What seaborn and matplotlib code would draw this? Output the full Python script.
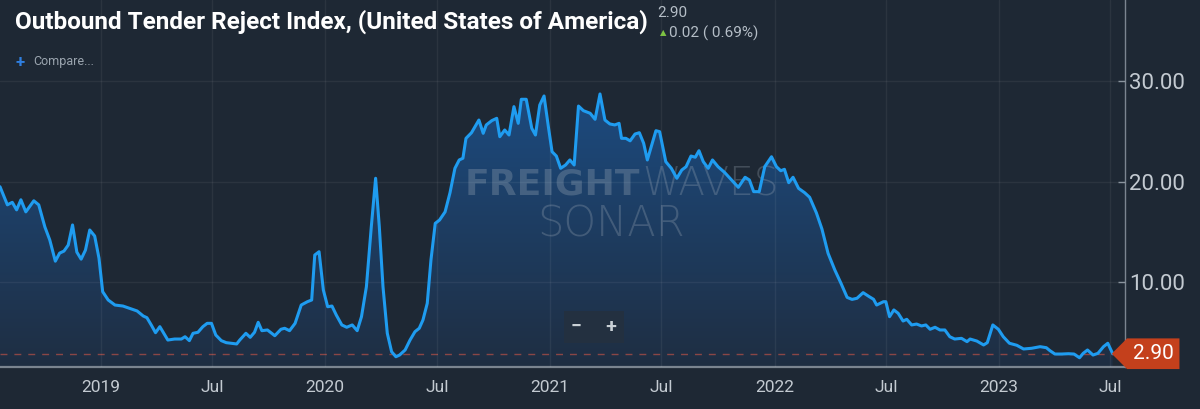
import matplotlib
matplotlib.use('Agg')
import matplotlib.pyplot as plt
import matplotlib.dates as mdates
import matplotlib.transforms as mtransforms
from matplotlib.colors import LinearSegmentedColormap
from matplotlib.lines import Line2D
from matplotlib.path import Path
import numpy as np
import pandas as pd
import seaborn as sns

# OTRI weekly readings
dates = [
    '2018-07-21', '2018-08-02', '2018-08-10', '2018-08-17', '2018-08-24', '2018-09-01', '2018-09-14',
    '2018-09-22', '2018-10-02', '2018-10-10', '2018-10-19', '2018-10-26', '2018-11-02', '2018-11-09',
    '2018-11-16', '2018-11-23', '2018-11-30', '2018-12-07', '2018-12-14', '2018-12-22', '2018-12-29',
    '2019-01-04', '2019-01-13', '2019-01-24', '2019-02-06', '2019-02-17', '2019-03-01', '2019-03-11',
    '2019-03-17', '2019-03-24', '2019-03-31', '2019-04-07', '2019-04-20', '2019-05-01', '2019-05-12',
    '2019-05-18', '2019-05-25', '2019-05-31', '2019-06-08', '2019-06-16', '2019-06-23', '2019-06-30',
    '2019-07-07', '2019-07-16', '2019-07-24', '2019-08-10', '2019-08-15', '2019-08-25', '2019-09-01',
    '2019-09-08', '2019-09-14', '2019-09-20', '2019-09-29', '2019-10-11', '2019-10-21', '2019-10-27',
    '2019-11-04', '2019-11-13', '2019-11-23', '2019-12-03', '2019-12-10', '2019-12-15', '2019-12-22',
    '2019-12-29',
    '2020-01-05', '2020-01-12', '2020-01-19', '2020-01-28', '2020-02-05', '2020-02-14', '2020-02-22',
    '2020-02-29', '2020-03-08', '2020-03-16', '2020-03-23', '2020-03-29', '2020-04-04', '2020-04-11',
    '2020-04-18', '2020-04-25', '2020-05-01', '2020-05-10', '2020-05-18', '2020-05-26', '2020-06-02',
    '2020-06-08', '2020-06-15', '2020-06-21', '2020-06-28', '2020-07-05', '2020-07-14', '2020-07-22',
    '2020-07-30', '2020-08-06', '2020-08-12', '2020-08-17', '2020-08-26', '2020-09-07', '2020-09-14',
    '2020-09-19', '2020-09-28', '2020-10-06', '2020-10-11', '2020-10-19', '2020-10-26', '2020-11-03',
    '2020-11-10', '2020-11-15', '2020-11-23', '2020-12-02', '2020-12-08', '2020-12-15', '2020-12-22',
    '2020-12-29',
    '2021-01-04', '2021-01-11', '2021-01-18', '2021-01-26', '2021-02-02', '2021-02-09', '2021-02-16',
    '2021-02-24', '2021-03-07', '2021-03-15', '2021-03-23', '2021-03-31', '2021-04-08', '2021-04-16',
    '2021-04-23', '2021-04-27', '2021-05-04', '2021-05-11', '2021-05-19', '2021-05-26', '2021-06-02',
    '2021-06-08', '2021-06-22', '2021-06-28', '2021-07-08', '2021-07-17', '2021-07-26', '2021-08-03',
    '2021-08-10', '2021-08-18', '2021-08-25', '2021-08-31', '2021-09-07', '2021-09-15', '2021-09-22',
    '2021-10-01', '2021-10-12', '2021-10-23', '2021-11-03', '2021-11-14', '2021-11-21', '2021-11-28',
    '2021-12-07', '2021-12-16', '2021-12-27',
    '2022-01-04', '2022-01-11', '2022-01-17', '2022-01-24', '2022-01-31', '2022-02-09', '2022-02-19',
    '2022-02-27', '2022-03-10', '2022-03-19', '2022-03-29', '2022-04-09', '2022-04-19', '2022-04-29',
    '2022-05-07', '2022-05-15', '2022-05-25', '2022-06-04', '2022-06-11', '2022-06-16', '2022-06-27',
    '2022-07-01', '2022-07-07', '2022-07-14', '2022-07-21', '2022-07-29', '2022-08-04', '2022-08-12',
    '2022-08-20', '2022-08-28', '2022-09-04', '2022-09-11', '2022-09-19', '2022-09-27', '2022-10-05',
    '2022-10-13', '2022-10-21', '2022-11-01', '2022-11-10', '2022-11-15', '2022-11-26', '2022-12-07',
    '2022-12-13', '2022-12-22', '2022-12-31',
    '2023-01-08', '2023-01-18', '2023-01-30', '2023-02-10', '2023-02-23', '2023-03-09', '2023-03-19',
    '2023-03-25', '2023-04-02', '2023-04-13', '2023-04-24', '2023-05-03', '2023-05-12', '2023-05-18',
    '2023-05-25', '2023-06-03', '2023-06-11', '2023-06-20', '2023-06-27', '2023-07-05',
]
values = [
    19.5, 17.7, 17.95, 17.2, 18.2, 17.0, 18.1, 17.7, 15.5, 14.2, 12.1, 12.9, 13.1, 13.7,
    15.7, 13.0, 12.3, 13.2, 15.2, 14.6, 12.4,
    9.07, 8.24, 7.74, 7.64, 7.41, 7.15, 6.65, 6.48, 5.76, 4.99, 5.59, 4.26, 4.36, 4.36,
    4.59, 4.2, 4.93, 5.03, 5.59, 5.92, 5.92, 4.76, 4.2, 4.0, 3.87, 4.26, 4.93, 4.53,
    5.03, 6.02, 5.19, 5.26, 4.69, 5.33, 5.43, 5.19, 5.92, 7.74, 8.07, 8.24, 12.71, 13.04,
    9.23,
    7.57, 7.64, 6.75, 5.76, 5.53, 5.76, 5.19, 6.58, 9.56, 15.53, 20.34, 15.53, 9.56, 4.93,
    3.1, 2.6, 2.77, 3.27, 4.26, 5.09, 5.43, 6.25, 7.91, 12.2, 15.86, 16.19, 17.0, 18.9,
    21.33, 22.16, 22.33, 24.31, 24.87, 26.13, 24.81, 25.64, 26.07, 26.3, 24.47, 25.14, 24.64, 27.46,
    25.8, 28.19, 28.19, 25.31, 24.64, 27.62, 28.52, 25.47,
    22.98, 22.55, 21.33, 21.66, 22.16, 21.66, 27.52, 27.06, 26.8, 26.2, 28.72, 26.13, 25.74, 25.64,
    25.8, 24.31, 24.31, 24.06, 24.74, 24.87, 23.82, 22.16, 25.07, 24.97, 21.99, 21.33, 20.34, 21.16,
    21.49, 22.55, 22.43, 23.08, 21.99, 21.33, 22.16, 21.49, 20.9, 20.17, 19.44, 20.44, 20.17, 19.01,
    19.01, 21.49, 22.48,
    21.49, 21.09, 21.23, 19.9, 20.44, 19.34, 18.9, 18.45, 16.9, 15.3, 12.88, 11.22, 9.9, 8.5,
    8.3, 8.41, 8.97, 8.57, 8.31, 7.74, 8.07, 8.07, 6.58, 7.25, 6.92, 6.15, 6.32, 5.76,
    5.85, 5.66, 5.76, 5.33, 5.53, 5.26, 5.26, 4.59, 4.36, 4.43, 4.1, 4.36, 4.16, 3.77,
    4.0, 5.76, 5.33,
    4.59, 3.94, 3.74, 3.37, 3.44, 3.6, 3.5, 3.2, 2.87, 2.87, 2.9, 2.87, 2.5, 2.94,
    3.27, 2.77, 2.94, 3.6, 3.94, 2.90,
]

x_ticks = ['2019-01-01', '2019-07-01', '2020-01-01', '2020-07-01', '2021-01-01',
           '2021-07-01', '2022-01-01', '2022-07-01', '2023-01-01', '2023-07-01']
x_labels = ['2019', 'Jul', '2020', 'Jul', '2021', 'Jul', '2022', 'Jul', '2023', 'Jul']
y_ticks = [10, 20, 30]
y_labels = ['10.00', '20.00', '30.00']

title = 'Outbound Tender Reject Index, (United States of America)'
last_value = 2.90
change_text = '0.02 ( 0.69%)'

x_range = ['2018-07-21', '2023-07-25']
y_range = [1.58, 38.06]

BG = '#1e2834'
LINE = '#1f9cf0'
TAG = '#c4401c'
GREY = '#c3cad1'
MARK = '#a3afbb'

df = pd.DataFrame({'date': pd.to_datetime(dates), 'value': values})

sns.set_theme(style='dark')
plt.rcParams['font.family'] = ['Roboto', 'DejaVu Sans']

fig = plt.figure(figsize=(12, 4.09), dpi=100, facecolor=BG)
ax = fig.add_axes([0, 42 / 409, 1125 / 1200, 367 / 409])
ax.set_facecolor(BG)

# area under the curve with a vertical gradient
fill = ax.fill_between(df['date'], df['value'], y_range[0], color='none', lw=0)
grad = np.linspace(0, 1, 256).reshape(-1, 1)
cmap = LinearSegmentedColormap.from_list('otri', ['#1f2e42', '#1c4b80'])
x0, x1 = mdates.date2num(pd.to_datetime(x_range))
im = ax.imshow(grad, cmap=cmap, aspect='auto', origin='lower',
               extent=[x0, x1, y_range[0], 29], zorder=1)
im.set_clip_path(fill.get_paths()[0], transform=ax.transData)

sns.lineplot(data=df, x='date', y='value', ax=ax, color=LINE, linewidth=2.2, zorder=3)

ax.axhline(last_value, color='#8a4646', lw=1, ls=(0, (5, 5)), zorder=2)

ax.set_xlim(pd.to_datetime(x_range))
ax.set_ylim(y_range)
ax.set_xticks(pd.to_datetime(x_ticks))
ax.set_xticklabels(x_labels)
ax.set_yticks(y_ticks)
ax.set_yticklabels(y_labels)
ax.set_xlabel('')
ax.set_ylabel('')

ax.grid(True, color='white', alpha=0.06, lw=1)
ax.set_axisbelow(False)
ax.yaxis.tick_right()
ax.tick_params(axis='y', direction='in', length=5, width=1, color='#8a949e',
               labelcolor=GREY, labelsize=16, pad=3)
ax.tick_params(axis='x', direction='out', length=5, width=1, color='#8a949e',
               labelcolor=GREY, labelsize=12.5, pad=4)
for s in ['top', 'left']:
    ax.spines[s].set_visible(False)
ax.spines['bottom'].set_color('#7b8590')
ax.spines['bottom'].set_linewidth(1.6)
ax.spines['right'].set_color('#7b8590')
ax.spines['right'].set_linewidth(1)


# price tag style box pointing left
def tag_box(x0, y0, width, height, mutation_size):
    pad = 0.28 * mutation_size
    x0, y0 = x0 - pad, y0 - pad
    width, height = width + 2 * pad, height + 2 * pad
    tip = height * 0.5
    verts = [(x0 - tip, y0 + height / 2), (x0, y0), (x0 + width, y0),
             (x0 + width, y0 + height), (x0, y0 + height), (x0 - tip, y0 + height / 2)]
    return Path(verts, closed=True)


trans = mtransforms.blended_transform_factory(ax.transAxes, ax.transData)
ax.text(1.007, last_value, f'{last_value:.2f}', transform=trans, ha='left', va='center',
        fontsize=15, color='white', clip_on=False, zorder=6,
        bbox=dict(boxstyle=tag_box, fc=TAG, ec='none'))

# watermark
ax.text(0.569, 0.496, 'FREIGHT', transform=ax.transAxes, ha='right', va='center',
        fontsize=26, fontweight='heavy', family=['DejaVu Sans'], color=MARK, alpha=0.3, zorder=2)
ax.text(0.571, 0.496, 'WAVES', transform=ax.transAxes, ha='left', va='center',
        fontsize=28, fontweight='ultralight', family=['DejaVu Sans'], color=MARK, alpha=0.28, zorder=2)
ax.text(0.543, 0.39, 'SONAR', transform=ax.transAxes, ha='center', va='center',
        fontsize=30, fontweight='ultralight', family=['DejaVu Sans'], color=MARK, alpha=0.28, zorder=2)

# zoom buttons
fig.text(594 / 1200, 1 - 327 / 409, '\u2212     +', ha='center', va='center', fontsize=14,
         fontweight='bold', color='#c9d0d6',
         bbox=dict(boxstyle='square,pad=0.35', fc='#233040', ec='none'))
fig.add_artist(Line2D([595 / 1200, 595 / 1200], [1 - 336 / 409, 1 - 318 / 409],
                      transform=fig.transFigure, color='#3a4858', lw=1))

# header
fig.text(15 / 1200, 1 - 22 / 409, title, ha='left', va='center', fontsize=17.5,
         fontweight='bold', color='white', family=['Liberation Sans Narrow', 'Roboto', 'DejaVu Sans'])
fig.text(657 / 1200, 1 - 13 / 409, f'{last_value:.2f}', ha='left', va='center',
         fontsize=11, color='#b5bec7')
fig.text(660 / 1200, 1 - 33 / 409, '\u25b2', ha='left', va='center', fontsize=6, color='#7dc243',
         family=['DejaVu Sans'])
fig.text(669 / 1200, 1 - 33 / 409, change_text, ha='left', va='center', fontsize=11, color='#b5bec7')
fig.text(15 / 1200, 1 - 62 / 409, '+', ha='left', va='center', fontsize=12, fontweight='bold',
         color='#2f7fe0')
fig.text(33 / 1200, 1 - 62 / 409, 'Compare...', ha='left', va='center', fontsize=9, color='#9ba5af')

fig.savefig('out.png', dpi=100, facecolor=BG)
